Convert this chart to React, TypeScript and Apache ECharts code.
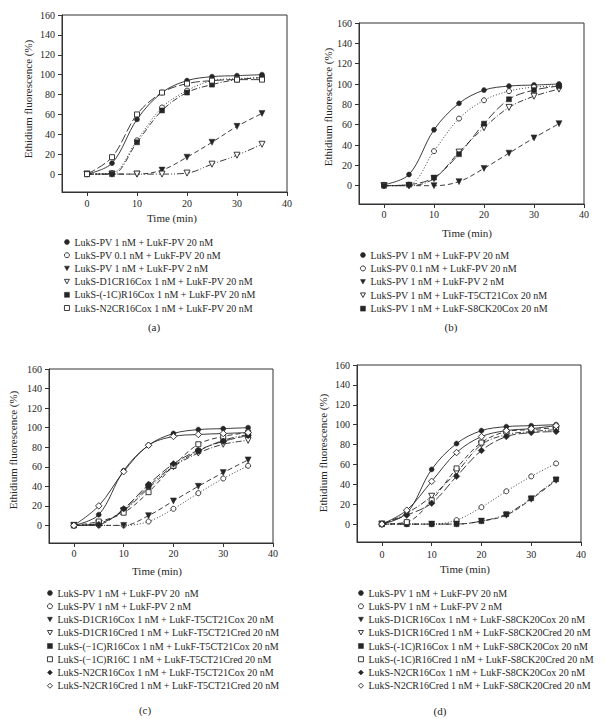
import React, { useEffect, useRef } from "react";
import * as echarts from "echarts";

// ---------- data ----------
const times = [0, 5, 10, 15, 20, 25, 30, 35];
const xTickValues = [0, 10, 20, 30, 40];
const yTickValues = [0, 20, 40, 60, 80, 100, 120, 140, 160];

// panel (a)
const aNames = [
  "LukS-PV 1 nM + LukF-PV 20 nM",
  "LukS-PV 0.1 nM + LukF-PV 20 nM",
  "LukS-PV 1 nM + LukF-PV 2 nM",
  "LukS-D1CR16Cox 1 nM + LukF-PV 20 nM",
  "LukS-(-1C)R16Cox 1 nM + LukF-PV 20 nM",
  "LukS-N2CR16Cox 1 nM + LukF-PV 20 nM",
];
const aPV20 = [0, 11, 55, 82, 94, 98, 99, 100];
const aPV01 = [0, 1, 34, 67, 84, 94, 96, 97];
const aPV2 = [0, 0, 0, 4, 17, 32, 48, 61];
const aD1ox = [0, 0, 0, 0, 1, 10, 19, 30];
const aM1Cox = [0, 0, 32, 64, 82, 90, 95, 97];
const aN2ox = [0, 17, 60, 82, 91, 94, 95, 95];

// panel (b)
const bNames = [
  "LukS-PV 1 nM + LukF-PV 20 nM",
  "LukS-PV 0.1 nM + LukF-PV 20 nM",
  "LukS-PV 1 nM + LukF-PV 2 nM",
  "LukS-PV 1 nM + LukF-T5CT21Cox 20 nM",
  "LukS-PV 1 nM + LukF-S8CK20Cox 20 nM",
];
const bPV20 = [1, 11, 55, 81, 94, 98, 99, 100];
const bPV01 = [0, 1, 34, 66, 84, 93, 97, 98];
const bPV2 = [0, 0, 0, 4, 17, 32, 47, 61];
const bT5ox = [0, 0, 7, 33, 57, 77, 88, 95];
const bS8ox = [0, 1, 8, 31, 61, 85, 94, 98];

// panel (c)
const cNames = [
  "LukS-PV 1 nM + LukF-PV 20  nM",
  "LukS-PV 1 nM + LukF-PV 2 nM",
  "LukS-D1CR16Cox 1 nM + LukF-T5CT21Cox 20 nM",
  "LukS-D1CR16Cred 1 nM + LukF-T5CT21Cred 20 nM",
  "LukS-(\u22121C)R16Cox 1 nM + LukF-T5CT21Cox 20 nM",
  "LukS-(\u22121C)R16C 1 nM + LukF-T5CT21Cred 20 nM",
  "LukS-N2CR16Cox 1 nM + LukF-T5CT21Cox 20 nM",
  "LukS-N2CR16Cred 1 nM + LukF-T5CT21Cred 20 nM",
];
const cPV20 = [0, 11, 56, 82, 94, 98, 99, 100];
const cPV2 = [0, 0, 0, 4, 17, 33, 48, 61];
const cD1ox = [0, 0, 0, 10, 25, 40, 54, 67];
const cD1red = [0, 2, 15, 38, 60, 74, 83, 87];
const cM1Cox = [0, 2, 16, 40, 61, 76, 87, 93];
const cM1Cred = [0, 4, 13, 34, 61, 83, 91, 95];
const cN2ox = [0, 1, 17, 42, 63, 77, 86, 92];
const cN2red = [0, 20, 55, 82, 91, 93, 94, 95];

// panel (d)
const dNames = [
  "LukS-PV 1 nM + LukF-PV 20 nM",
  "LukS-PV 1 nM + LukF-PV 2 nM",
  "LukS-D1CR16Cox 1 nM + LukF-S8CK20Cox 20 nM",
  "LukS-D1CR16Cred 1 nM + LukF-S8CK20Cred 20 nM",
  "LukS-(-1C)R16Cox 1 nM + LukF-S8CK20Cox 20 nM",
  "LukS-(-1C)R16Cred 1 nM + LukF-S8CK20Cred 20 nM",
  "LukS-N2CR16Cox 1 nM + LukF-S8CK20Cox 20 nM",
  "LukS-N2CR16Cred 1 nM + LukF-S8CK20Cred 20 nM",
];
const dPV20 = [0, 11, 55, 81, 94, 98, 99, 100];
const dPV2 = [0, 0, 0, 4, 17, 33, 48, 61];
const dD1ox = [0, 0, 0, 0, 3, 9, 25, 44];
const dD1red = [0, 11, 28, 52, 80, 90, 93, 95];
const dM1Cox = [0, 0, 0, 0, 3, 10, 26, 45];
const dM1Cred = [0, 2, 24, 56, 82, 93, 95, 97];
const dN2ox = [0, 9, 21, 48, 74, 88, 92, 93];
const dN2red = [0, 14, 43, 72, 88, 94, 96, 99];

// ---------- styles ----------
const FONT = "'Liberation Serif', 'DejaVu Serif', serif";
const INK = "#262626";
const DOWN_TRI = "path://M0,0L10,0L5,9Z";
const SOLID = "solid";
const DOT = [1, 2];
const DASH = [5, 3];
const LONGDASH = [9, 3];
const DASHDOT = [6, 2, 1, 2];
const DASHDOTDOT = [7, 2, 1, 2, 1, 2];

type Marker = { symbol: string; filled: boolean; size: number };
const M = {
  fc: { symbol: "circle", filled: true, size: 5 },
  oc: { symbol: "circle", filled: false, size: 5 },
  ft: { symbol: DOWN_TRI, filled: true, size: 6 },
  ot: { symbol: DOWN_TRI, filled: false, size: 6 },
  fs: { symbol: "rect", filled: true, size: 5 },
  os: { symbol: "rect", filled: false, size: 5 },
  fd: { symbol: "diamond", filled: true, size: 6.5 },
  od: { symbol: "diamond", filled: false, size: 6.5 },
};

type SDef = { name: string; values: number[]; marker: Marker; dash: any };

type PanelDef = {
  qx: number;
  qy: number;
  grid: { left: number; top: number; width: number; height: number };
  xMargin: number;
  yTitle: { x: number; y: number };
  xTitle: { x: number; y: number };
  legend: { left: number; top: number; gap: number };
  label: { x: number; y: number; text: string };
  series: SDef[];
};

const panels: PanelDef[] = [
  {
    qx: 0,
    qy: 0,
    grid: { left: 62, top: 15, width: 225, height: 177 },
    xMargin: 6,
    yTitle: { x: 28, y: 99 },
    xTitle: { x: 172, y: 218 },
    legend: { left: 64, top: 237, gap: 3.2 },
    label: { x: 154, y: 327, text: "(a)" },
    series: [
      { name: aNames[0], values: aPV20, marker: M.fc, dash: SOLID },
      { name: aNames[1], values: aPV01, marker: M.oc, dash: DOT },
      { name: aNames[2], values: aPV2, marker: M.ft, dash: DASH },
      { name: aNames[3], values: aD1ox, marker: M.ot, dash: DASHDOTDOT },
      { name: aNames[4], values: aM1Cox, marker: M.fs, dash: DASHDOT },
      { name: aNames[5], values: aN2ox, marker: M.os, dash: LONGDASH },
    ],
  },
  {
    qx: 303,
    qy: 0,
    grid: { left: 56, top: 23, width: 225, height: 181 },
    xMargin: 5,
    yTitle: { x: 25, y: 107 },
    xTitle: { x: 164, y: 233 },
    legend: { left: 57, top: 250, gap: 3.4 },
    label: { x: 148, y: 327, text: "(b)" },
    series: [
      { name: bNames[0], values: bPV20, marker: M.fc, dash: SOLID },
      { name: bNames[1], values: bPV01, marker: M.oc, dash: DOT },
      { name: bNames[2], values: bPV2, marker: M.ft, dash: DASH },
      { name: bNames[3], values: bT5ox, marker: M.ot, dash: DASHDOT },
      { name: bNames[4], values: bS8ox, marker: M.fs, dash: LONGDASH },
    ],
  },
  {
    qx: 0,
    qy: 360,
    grid: { left: 49, top: 9, width: 224, height: 174 },
    xMargin: 5,
    yTitle: { x: 13, y: 90 },
    xTitle: { x: 157, y: 211 },
    legend: { left: 47, top: 228, gap: 3.25 },
    label: { x: 145, y: 350, text: "(c)" },
    series: [
      { name: cNames[0], values: cPV20, marker: M.fc, dash: SOLID },
      { name: cNames[1], values: cPV2, marker: M.oc, dash: DOT },
      { name: cNames[2], values: cD1ox, marker: M.ft, dash: DASH },
      { name: cNames[3], values: cD1red, marker: M.ot, dash: DASHDOT },
      { name: cNames[4], values: cM1Cox, marker: M.fs, dash: DASHDOTDOT },
      { name: cNames[5], values: cM1Cred, marker: M.os, dash: DASH },
      { name: cNames[6], values: cN2ox, marker: M.fd, dash: LONGDASH },
      { name: cNames[7], values: cN2red, marker: M.od, dash: SOLID },
    ],
  },
  {
    qx: 303,
    qy: 360,
    grid: { left: 54, top: 1, width: 224, height: 181 },
    xMargin: 7,
    yTitle: { x: 20, y: 93 },
    xTitle: { x: 162, y: 209 },
    legend: { left: 55, top: 228, gap: 3.25 },
    label: { x: 137, y: 351, text: "(d)" },
    series: [
      { name: dNames[0], values: dPV20, marker: M.fc, dash: SOLID },
      { name: dNames[1], values: dPV2, marker: M.oc, dash: DOT },
      { name: dNames[2], values: dD1ox, marker: M.ft, dash: DASH },
      { name: dNames[3], values: dD1red, marker: M.ot, dash: DASHDOT },
      { name: dNames[4], values: dM1Cox, marker: M.fs, dash: DASHDOTDOT },
      { name: dNames[5], values: dM1Cred, marker: M.os, dash: DASH },
      { name: dNames[6], values: dN2ox, marker: M.fd, dash: LONGDASH },
      { name: dNames[7], values: dN2red, marker: M.od, dash: SOLID },
    ],
  },
];

function markerStyle(m: Marker) {
  return {
    color: m.filled ? INK : "#ffffff",
    borderColor: INK,
    borderWidth: m.filled ? 0.5 : 0.9,
  };
}

function buildOption(p: PanelDef) {
  const axisText = { fontFamily: FONT, fontSize: 10, fontWeight: "normal", color: INK };
  const titleStyle = {
    fontFamily: FONT,
    fontSize: 11,
    fontWeight: "normal",
    fill: INK,
    align: "center",
    verticalAlign: "middle",
  };
  return {
    animation: false,
    grid: {
      ...p.grid,
      show: true,
      borderColor: "#333",
      borderWidth: 1,
      backgroundColor: "transparent",
      containLabel: false,
    },
    xAxis: {
      type: "value",
      min: -5,
      max: 40,
      axisLine: { show: true, onZero: false, lineStyle: { color: "#333", width: 1 } },
      axisTick: {
        show: true,
        inside: false,
        length: 4,
        customValues: xTickValues,
        lineStyle: { color: "#333" },
      },
      axisLabel: { customValues: xTickValues, margin: p.xMargin, ...axisText },
      splitLine: { show: false },
    },
    yAxis: {
      type: "value",
      min: -18,
      max: 160,
      axisLine: { show: true, onZero: false, lineStyle: { color: "#333", width: 1 } },
      axisTick: {
        show: true,
        inside: false,
        length: 4,
        customValues: yTickValues,
        lineStyle: { color: "#333" },
      },
      axisLabel: { customValues: yTickValues, margin: 7, ...axisText },
      splitLine: { show: false },
    },
    legend: {
      orient: "vertical",
      left: p.legend.left,
      top: p.legend.top,
      itemWidth: 5,
      itemHeight: 5,
      itemGap: p.legend.gap,
      padding: 0,
      selectedMode: false,
      textStyle: { fontFamily: FONT, fontSize: 10, fontWeight: "normal", color: INK },
      data: p.series.map((s) => ({
        name: s.name,
        icon: s.marker.symbol,
        itemStyle: markerStyle(s.marker),
      })),
    },
    graphic: [
      {
        type: "text",
        x: p.yTitle.x,
        y: p.yTitle.y,
        rotation: Math.PI / 2,
        style: { text: "Ethidium fluorescence (%)", ...titleStyle },
      },
      {
        type: "text",
        x: p.xTitle.x,
        y: p.xTitle.y,
        style: { text: "Time (min)", ...titleStyle },
      },
      {
        type: "text",
        x: p.label.x,
        y: p.label.y,
        style: { text: p.label.text, ...titleStyle },
      },
    ],
    series: p.series.map((s) => ({
      type: "line",
      name: s.name,
      data: times.map((t, i) => [t, s.values[i]]),
      smooth: 0.35,
      symbol: s.marker.symbol,
      symbolSize: s.marker.size,
      showSymbol: true,
      lineStyle: { color: INK, width: 0.9, type: s.dash },
      itemStyle: markerStyle(s.marker),
      emphasis: { disabled: true },
      z: 3,
    })),
  };
}

function Panel({ def }: { def: PanelDef }) {
  const ref = useRef<HTMLDivElement>(null);
  useEffect(() => {
    if (!ref.current) return;
    const chart = echarts.init(ref.current, undefined, { renderer: "svg" });
    chart.setOption(buildOption(def) as any);
    return () => chart.dispose();
  }, [def]);
  return (
    <div
      ref={ref}
      style={{
        position: "absolute",
        left: def.qx,
        top: def.qy,
        width: 303,
        height: def.qy === 0 ? 360 : 359,
      }}
    />
  );
}

export default function App() {
  return (
    <div
      style={{
        position: "absolute",
        left: 0,
        top: 0,
        width: 606,
        height: 719,
        background: "#ffffff",
        overflow: "hidden",
      }}
    >
      {panels.map((p, i) => (
        <Panel key={i} def={p} />
      ))}
    </div>
  );
}
